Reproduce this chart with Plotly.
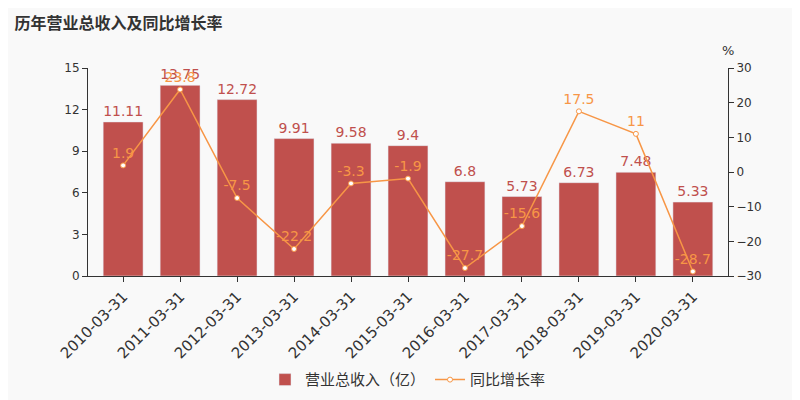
import plotly.graph_objects as go

dates = ["2010-03-31","2011-03-31","2012-03-31","2013-03-31","2014-03-31","2015-03-31","2016-03-31","2017-03-31","2018-03-31","2019-03-31","2020-03-31"]
revenue = [11.11, 13.75, 12.72, 9.91, 9.58, 9.4, 6.8, 5.73, 6.73, 7.48, 5.33]
growth = [1.9, 23.8, -7.5, -22.2, -3.3, -1.9, -27.7, -15.6, 17.5, 11, -28.7]
rev_labels = ["11.11","13.75","12.72","9.91","9.58","9.4","6.8","5.73","6.73","7.48","5.33"]
gr_labels = ["1.9","23.8","-7.5","-22.2","-3.3","-1.9","-27.7","-15.6","17.5","11","-28.7"]

fig = go.Figure()
fig.add_bar(x=dates, y=revenue, name="营业总收入（亿）", marker_color="#c0504d", width=0.7,
            text=rev_labels, textposition="outside", textfont=dict(color="#c0504d", size=14), cliponaxis=False)
fig.add_scatter(x=dates, y=growth, yaxis="y2", name="同比增长率", mode="lines+markers+text",
                line=dict(color="#f79646", width=1.5),
                marker=dict(color="white", size=5, line=dict(color="#f79646", width=1)),
                text=gr_labels, textposition="top center", textfont=dict(color="#f79646", size=14), cliponaxis=False)
fig.update_layout(
    width=800, height=400, paper_bgcolor="#f9f9f9", plot_bgcolor="#f9f9f9",
    margin=dict(l=80, r=80, t=60, b=115),
    font=dict(family="DejaVu Sans", color="#333"),
    title=dict(text="<b>历年营业总收入及同比增长率</b>", x=0.008, y=0.975, xanchor="left", yanchor="top",
               font=dict(size=16, color="#333", family="Noto Sans CJK SC")),
    showlegend=True,
    legend=dict(orientation="h", x=0.5, xanchor="center", y=-0.42, yanchor="top",
                font=dict(size=15, family="Noto Sans CJK SC", color="#333")),
    bargap=0.3,
    xaxis=dict(type="category", tickangle=-45, tickfont=dict(size=15), showline=True, linecolor="#333",
               ticks="outside", tickcolor="#333"),
    yaxis=dict(range=[0, 15], dtick=3, showgrid=False, showline=True, linecolor="#333", ticks="outside",
               tickcolor="#333", tickfont=dict(size=12), zeroline=False),
    yaxis2=dict(range=[-30, 30], dtick=10, overlaying="y", side="right", showgrid=False, showline=True,
                linecolor="#333", ticks="outside", tickcolor="#333", tickfont=dict(size=12), zeroline=False),
    annotations=[dict(text="%", x=1.0, y=1.04, xref="paper", yref="paper", showarrow=False,
                      xanchor="center", yanchor="bottom", font=dict(size=13, color="#333"))],
)
fig.write_html("out.html")
